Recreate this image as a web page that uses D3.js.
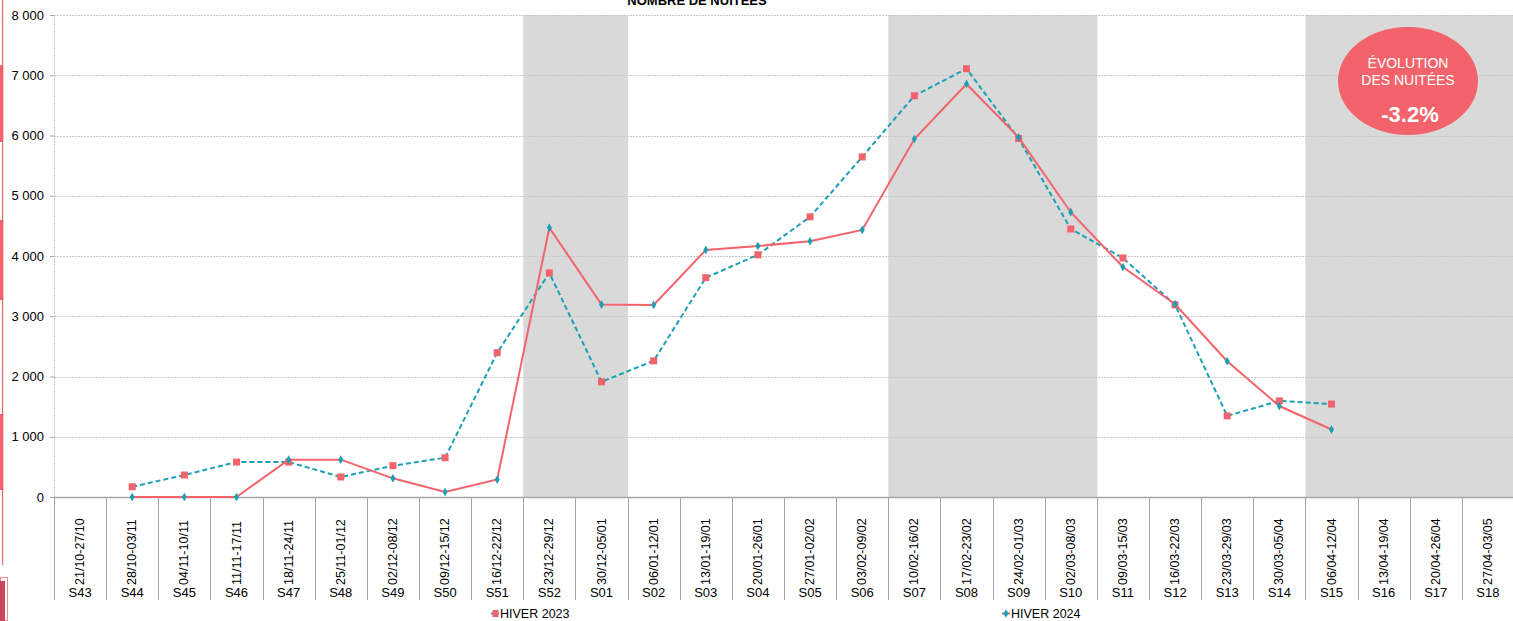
<!DOCTYPE html>
<html>
<head>
<meta charset="utf-8">
<script src="https://cdn.jsdelivr.net/npm/d3@7/dist/d3.min.js"></script>
<style>
  html, body { margin: 0; padding: 0; background: #fff; }
  svg { display: block; font-family: "Liberation Sans", Arial, sans-serif; }
</style>
</head>
<body>
<svg id="chart" width="1513" height="621"></svg>
<script>
// Semaines de la saison d'hiver
const weeks = ["S43","S44","S45","S46","S47","S48","S49","S50","S51","S52","S01","S02","S03","S04",
               "S05","S06","S07","S08","S09","S10","S11","S12","S13","S14","S15","S16","S17","S18"];
const dateRanges = ["21/10-27/10","28/10-03/11","04/11-10/11","11/11-17/11","18/11-24/11","25/11-01/12",
                    "02/12-08/12","09/12-15/12","16/12-22/12","23/12-29/12","30/12-05/01","06/01-12/01",
                    "13/01-19/01","20/01-26/01","27/01-02/02","03/02-09/02","10/02-16/02","17/02-23/02",
                    "24/02-01/03","02/03-08/03","09/03-15/03","16/03-22/03","23/03-29/03","30/03-05/04",
                    "06/04-12/04","13/04-19/04","20/04-26/04","27/04-03/05"];

// Nuitées par semaine (null = pas de donnée)
const hiver2023 = [null,170,365,580,580,332,520,652,2395,3720,1912,2260,3640,4020,
                   4650,5645,6660,7108,5950,4448,3967,3190,1346,1596,1543,null,null,null];
const hiver2024 = [null,0,0,0,620,620,310,83,290,4470,3193,3188,4100,4166,
                   4245,4432,5942,6855,5970,4727,3817,3200,2254,1510,1120,null,null,null];

// Semaines de vacances scolaires (zones grisées)
const holidayWeeks = ["S52","S01","S07","S08","S09","S10","S15","S16","S17","S18"];

const yTicks = [0,1000,2000,3000,4000,5000,6000,7000,8000];
const chartTitle = "NOMBRE DE NUITÉES";
const evolutionLabel = ["ÉVOLUTION", "DES NUITÉES"];
const evolutionValue = "-3.2%";
const seriesNames = ["HIVER 2023", "HIVER 2024"];

const RED = "#f2636b";
const TEAL = "#1b9fb6";
const GRID = "#c8c8c8";
const AXIS = "#a6a6a6";

const svg = d3.select("#chart");
const plotLeft = 54, plotRight = 1514, plotTop = 15, plotBottom = 497, catBottom = 600;

const x = d3.scaleBand().domain(weeks).range([plotLeft, plotRight]).padding(0);
const y = d3.scaleLinear().domain([0, 8000]).range([plotBottom, plotTop]);
const fmt = v => d3.format(",")(v).replace(/,/g, " ");

// Zones grisées
svg.append("g").selectAll("rect").data(holidayWeeks).join("rect")
  .attr("x", d => x(d)).attr("y", plotTop)
  .attr("width", x.bandwidth() + 0.5).attr("height", plotBottom - plotTop)
  .attr("fill", "#d9d9d9");

// Grille horizontale
svg.append("g").selectAll("line").data(yTicks.filter(d => d > 0)).join("line")
  .attr("x1", plotLeft).attr("x2", plotRight)
  .attr("y1", d => Math.round(y(d)) + 0.5).attr("y2", d => Math.round(y(d)) + 0.5)
  .attr("stroke", GRID).attr("stroke-width", 1).attr("stroke-dasharray", "2,1");

// Axe vertical (pointillé dans la zone de tracé)
svg.append("line").attr("x1", plotLeft + 0.5).attr("x2", plotLeft + 0.5)
  .attr("y1", plotTop).attr("y2", plotBottom)
  .attr("stroke", GRID).attr("stroke-dasharray", "2,1");

// Axe Y
const yAxis = d3.axisLeft(y).tickValues(yTicks).tickSize(4).tickPadding(6).tickFormat(fmt);
const gy = svg.append("g").attr("transform", `translate(${plotLeft},0)`).call(yAxis);
gy.select(".domain").remove();
gy.selectAll(".tick line").attr("stroke", AXIS);
gy.selectAll(".tick text").attr("fill", "#000").attr("font-size", 13)
  .attr("font-family", "Liberation Sans, Arial, sans-serif");

// Axe X et séparateurs de catégories
svg.append("line").attr("x1", plotLeft).attr("x2", plotRight)
  .attr("y1", plotBottom + 0.5).attr("y2", plotBottom + 0.5)
  .attr("stroke", AXIS).attr("stroke-width", 1.5);
const bounds = weeks.map(w => x(w)).concat([plotRight - 1]);
svg.append("g").selectAll("line").data(bounds).join("line")
  .attr("x1", d => Math.round(d) + 0.5).attr("x2", d => Math.round(d) + 0.5)
  .attr("y1", plotBottom).attr("y2", catBottom)
  .attr("stroke", AXIS).attr("stroke-width", 1);

const xg = svg.append("g");
xg.selectAll("text.date").data(weeks).join("text")
  .attr("class", "date")
  .attr("transform", d => `translate(${x(d) + x.bandwidth() / 2 + 4},585) rotate(-90)`)
  .attr("text-anchor", "start").attr("font-size", 12.5).attr("fill", "#000")
  .text((d, i) => dateRanges[i]);
xg.selectAll("text.week").data(weeks).join("text")
  .attr("class", "week")
  .attr("x", d => x(d) + x.bandwidth() / 2).attr("y", 597)
  .attr("text-anchor", "middle").attr("font-size", 13).attr("fill", "#000")
  .text(d => d);

// Titre
svg.append("text").attr("x", 697).attr("y", 5)
  .attr("text-anchor", "middle").attr("font-size", 13).attr("font-weight", "bold")
  .text(chartTitle);

const cx = d => x(d) + x.bandwidth() / 2;
function series(values) {
  return weeks.map((w, i) => ({ w, v: values[i] })).filter(d => d.v !== null);
}
const line = d3.line().x(d => cx(d.w)).y(d => y(d.v));

// HIVER 2023 : trait pointillé bleu, carrés rouges
const s23 = series(hiver2023);
svg.append("path").datum(s23).attr("d", line)
  .attr("fill", "none").attr("stroke", TEAL).attr("stroke-width", 2)
  .attr("stroke-dasharray", "5,3");
// HIVER 2024 : trait plein rouge, losanges bleus
const s24 = series(hiver2024);
svg.append("path").datum(s24).attr("d", line)
  .attr("fill", "none").attr("stroke", RED).attr("stroke-width", 2);

svg.append("g").selectAll("rect").data(s23).join("rect")
  .attr("x", d => cx(d.w) - 3.5).attr("y", d => y(d.v) - 3.5)
  .attr("width", 7).attr("height", 7).attr("fill", RED);

const diamond = d3.symbol().type(d3.symbolDiamond).size(22);
svg.append("g").selectAll("path").data(s24).join("path")
  .attr("transform", d => `translate(${cx(d.w)},${y(d.v)})`)
  .attr("d", diamond).attr("fill", TEAL);

// Pastille d'évolution
const badge = svg.append("g");
badge.append("ellipse").attr("cx", 1408).attr("cy", 81).attr("rx", 70).attr("ry", 54)
  .attr("fill", RED);
badge.append("text").attr("x", 1408).attr("y", 68).attr("text-anchor", "middle")
  .attr("fill", "#fff").attr("font-size", 14).text(evolutionLabel[0]);
badge.append("text").attr("x", 1408).attr("y", 85).attr("text-anchor", "middle")
  .attr("fill", "#fff").attr("font-size", 14).text(evolutionLabel[1]);
badge.append("text").attr("x", 1410).attr("y", 122).attr("text-anchor", "middle")
  .attr("fill", "#fff").attr("font-size", 22).attr("font-weight", "bold").text(evolutionValue);

// Légende
const legend = svg.append("g");
const legendItems = [
  { name: seriesNames[0], x: 495, lineColor: TEAL, mark: "square" },
  { name: seriesNames[1], x: 1006, lineColor: RED, mark: "diamond" }
];
legendItems.forEach(it => {
  legend.append("line").attr("x1", it.x - 4).attr("x2", it.x + 4)
    .attr("y1", 613.5).attr("y2", 613.5).attr("stroke", it.lineColor).attr("stroke-width", 2);
  if (it.mark === "square") {
    legend.append("rect").attr("x", it.x - 2.5).attr("y", 610).attr("width", 6).attr("height", 7).attr("fill", RED);
  } else {
    legend.append("path").attr("transform", `translate(${it.x},613.5)`)
      .attr("d", d3.symbol().type(d3.symbolDiamond).size(22)).attr("fill", TEAL);
  }
  legend.append("text").attr("x", it.x + 5).attr("y", 618)
    .attr("font-size", 12.5).attr("fill", "#000").text(it.name);
});

// Bordure gauche de la page
const edge = svg.append("g");
edge.append("rect").attr("x", 2).attr("y", 0).attr("width", 1.2).attr("height", 565).attr("fill", RED);
[[65, 142], [220, 300], [414, 490]].forEach(([a, b]) => {
  edge.append("rect").attr("x", 0).attr("y", a).attr("width", 3.2).attr("height", b - a).attr("fill", RED);
});
edge.append("rect").attr("x", 0.5).attr("y", 577.5).attr("width", 7).attr("height", 43)
  .attr("fill", "#fff").attr("stroke", "#f08a90").attr("stroke-width", 1);
edge.append("rect").attr("x", 0).attr("y", 581).attr("width", 5).attr("height", 40).attr("fill", "#c8475c");
</script>
</body>
</html>
